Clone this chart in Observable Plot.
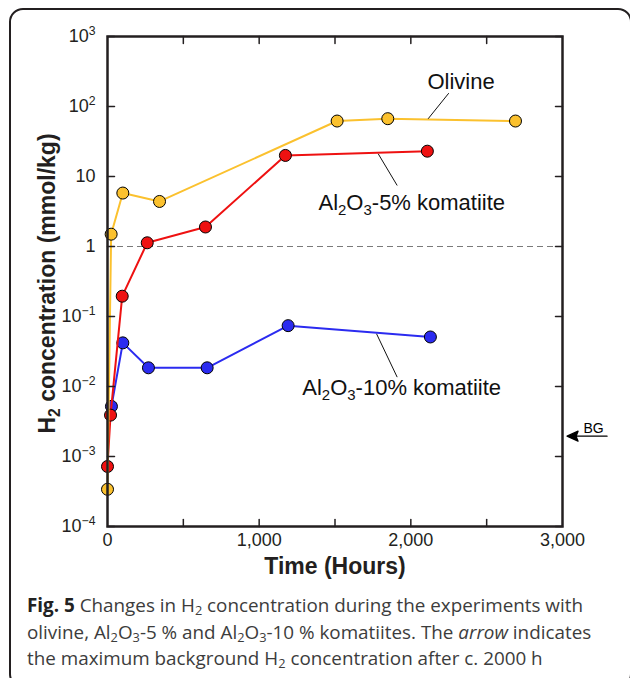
<!DOCTYPE html>
<html><head><meta charset="utf-8">
<script src="https://cdn.jsdelivr.net/npm/d3@7"></script>
<script src="https://cdn.jsdelivr.net/npm/@observablehq/plot@0.6"></script>
<style>
html,body{margin:0;padding:0;background:#fff;}
body{width:630px;height:678px;overflow:hidden;position:relative;font-family:"Liberation Sans",Arial,Helvetica,sans-serif;}
#frame{position:absolute;left:9px;top:8px;width:623px;height:680px;border:2px solid #231f20;border-radius:14px;box-sizing:border-box;}
#chart{position:absolute;left:0;top:0;}
#caption{position:absolute;left:27px;top:592px;font-family:"Open Sans",sans-serif;font-size:19px;line-height:26.5px;color:#3c3c3c;white-space:nowrap;transform-origin:0 0;}
#caption sub{font-size:68%;vertical-align:-0.2em;line-height:0;}
#caption b{color:#222;}
</style></head>
<body>
<div id="frame"></div>
<div id="chart"></div>
<div id="caption"><div id="cap1"><b>Fig. 5</b> Changes in H<sub>2</sub> concentration during the experiments with</div><div>olivine, Al<sub>2</sub>O<sub>3</sub>-5 % and Al<sub>2</sub>O<sub>3</sub>-10 % komatiites. The <i>arrow</i> indicates</div><div>the maximum background H<sub>2</sub> concentration after c. 2000 h</div></div>
<script>
// ---- data ----
const olivineT  = [0, 24, 101, 343, 1514, 1848, 2690];
const olivineH2 = [3.4e-4, 1.5, 5.8, 4.4, 62, 67, 62];
const al5T  = [0, 20, 97, 262, 646, 1173, 2109];
const al5H2 = [7.2e-4, 3.9e-3, 0.195, 1.13, 1.9, 20, 23];
const al10T  = [26, 101, 270, 657, 1191, 2129];
const al10H2 = [5.2e-3, 0.042, 0.0185, 0.0185, 0.074, 0.051];

const yTicks = [1e-4, 1e-3, 1e-2, 1e-1, 1, 10, 100, 1000];
const yTickLabels = ["10^{−4}", "10^{−3}", "10^{−2}", "10^{−1}", "1", "10", "10^{2}", "10^{3}"];
const xTicks = [0, 1000, 2000, 3000];
const xTickLabels = ["0", "1,000", "2,000", "3,000"];
const xMinorTicks = [500, 1000, 1500, 2000, 2500];

const seriesNames  = ["Olivine", "Al_{2}O_{3}-5% komatiite", "Al_{2}O_{3}-10% komatiite"];
const labelX = [2331, 1391, 1284];
const labelY = [222, 4.18, 0.00952];
const leaderX1 = [2250, 1785, 1774];
const leaderY1 = [155, 21.1, 0.0566];
const leaderX2 = [2114, 1910, 1910];
const leaderY2 = [66.7, 7.44, 0.0136];

const refLevel = [1];
const bgArrowX = 3030, bgArrowY = 1.95e-3;
const bgLabel = "BG", bgLabelX = 3205, bgLabelY = 2.54e-3;

const colYellow = "#fbc12e", colRed = "#ee1111", colBlue = "#2b2bf0", ink = "#231f20";

const rows = (T, H) => T.map((t, i) => ({t, h: H[i]}));
const olivine = rows(olivineT, olivineH2);
const al5 = rows(al5T, al5H2);
const al10 = rows(al10T, al10H2);
const labels = seriesNames.map((s, i) => ({s, x: labelX[i], y: labelY[i]}));
const leaders = leaderX1.map((x1, i) => ({x1, y1: leaderY1[i], x2: leaderX2[i], y2: leaderY2[i]}));

const tickShape = {draw(ctx, l) { ctx.moveTo(0, 0); ctx.lineTo(0, -l); }};
const bgShape = {draw(ctx, l) {
  ctx.moveTo(0, 0); ctx.lineTo(0, -l);
  ctx.moveTo(0, 0); ctx.lineTo(-5, -11); ctx.lineTo(0, -9); ctx.lineTo(5, -11); ctx.closePath();
}};

function series(data, color) {
  return [
    Plot.line(data, {x: "t", y: "h", stroke: color, strokeWidth: 2}),
    Plot.dot(data, {x: "t", y: "h", r: 6, fill: color, stroke: "#000", strokeWidth: 1})
  ];
}

const chart = Plot.plot({
  width: 630, height: 590,
  marginTop: 36, marginLeft: 107, marginRight: 68, marginBottom: 64,
  style: {fontFamily: "'Liberation Sans', Arial, Helvetica, sans-serif", color: ink, background: "transparent", overflow: "visible"},
  x: {domain: [0, 3000], axis: null},
  y: {type: "log", domain: [1e-4, 1e3], axis: null},
  marks: [
    Plot.ruleY(refLevel, {stroke: "#7a7a7a", strokeWidth: 1, strokeDasharray: "6,4"}),
    ...series(al10, colBlue),
    ...series(al5, colRed),
    ...series(olivine, colYellow),
    Plot.link(leaders, {x1: "x1", y1: "y1", x2: "x2", y2: "y2", stroke: "#111", strokeWidth: 1}),
    Plot.text(labels.slice(0, 1), {x: "x", y: "y", text: "s", textAnchor: "middle", lineAnchor: "middle", fontSize: 22, fill: "#111"}),
    Plot.text(labels.slice(1), {x: "x", y: "y", text: "s", textAnchor: "start", lineAnchor: "middle", fontSize: 22, fill: "#111"}),
    Plot.frame({stroke: ink, strokeWidth: 2.5}),
    Plot.vector(yTicks, {y: d => d, frameAnchor: "left", rotate: 90, length: 7, anchor: "start", shape: tickShape, stroke: ink, strokeWidth: 1.5}),
    Plot.vector(yTicks, {y: d => d, frameAnchor: "right", rotate: -90, length: 7, anchor: "start", shape: tickShape, stroke: ink, strokeWidth: 1.5}),
    Plot.vector(xMinorTicks, {x: d => d, frameAnchor: "bottom", rotate: 0, length: 7, anchor: "start", shape: tickShape, stroke: ink, strokeWidth: 1.5}),
    Plot.vector(xMinorTicks, {x: d => d, frameAnchor: "top", rotate: 180, length: 7, anchor: "start", shape: tickShape, stroke: ink, strokeWidth: 1.5}),
    Plot.text(yTicks, {y: d => d, frameAnchor: "left", dx: -12, textAnchor: "end", lineAnchor: "middle", text: (d, i) => yTickLabels[i], fontSize: 18, fill: ink}),
    Plot.text(xTicks, {x: d => d, frameAnchor: "bottom", dy: 14, textAnchor: "middle", lineAnchor: "middle", text: (d, i) => xTickLabels[i], fontSize: 18, fill: ink}),
    Plot.text(["Time (Hours)"], {frameAnchor: "bottom", dy: 40, textAnchor: "middle", lineAnchor: "middle", text: d => d, fontSize: 23, fontWeight: "bold", fill: ink}),
    Plot.text(["H_{2} concentration (mmol/kg)"], {frameAnchor: "left", dx: -59.5, dy: 2, rotate: -90, textAnchor: "middle", lineAnchor: "middle", text: d => d, fontSize: 23, fontWeight: "bold", fill: ink}),
    Plot.vector([bgArrowY], {x: () => bgArrowX, y: d => d, rotate: 90, length: 40, anchor: "start", shape: bgShape, stroke: "#000", fill: "#000", strokeWidth: 1.3}),
    Plot.text([bgLabelY], {x: () => bgLabelX, y: d => d, text: () => bgLabel, textAnchor: "middle", lineAnchor: "middle", fontSize: 14, fill: "#000"})
  ]
});
document.getElementById("chart").appendChild(chart);

// rich text: _{..} subscript, ^{..} superscript
const NS = "http://www.w3.org/2000/svg";
chart.querySelectorAll("text").forEach(t => {
  const s = t.textContent;
  if (!/[_^]\{/.test(s)) return;
  const fs = parseFloat(getComputedStyle(t).fontSize) || 18;
  while (t.firstChild) t.removeChild(t.firstChild);
  const re = /([_^])\{([^}]*)\}/g;
  let last = 0, m, pending = 0;
  const add = (txt, size, dy) => {
    if (!txt) return false;
    const sp = document.createElementNS(NS, "tspan");
    if (size) sp.setAttribute("font-size", size);
    if (dy) sp.setAttribute("dy", dy);
    sp.textContent = txt;
    t.appendChild(sp);
    return true;
  };
  while ((m = re.exec(s))) {
    if (add(s.slice(last, m.index), null, -pending)) pending = 0;
    const shift = m[1] === "_" ? fs * 0.22 : -fs * 0.42;
    add(m[2], fs * 0.68, shift - pending);
    pending = shift;
    last = re.lastIndex;
  }
  add(s.slice(last), null, -pending);
});

// fit caption width
const cap = document.getElementById("caption");
const c1 = document.getElementById("cap1");
const probe = document.createElement("span");
probe.innerHTML = c1.innerHTML;
probe.style.whiteSpace = "nowrap";
c1.innerHTML = "";
c1.appendChild(probe);
const pw = probe.getBoundingClientRect().width;
cap.style.transform = `scaleX(${556 / pw})`;
</script>
</body></html>
